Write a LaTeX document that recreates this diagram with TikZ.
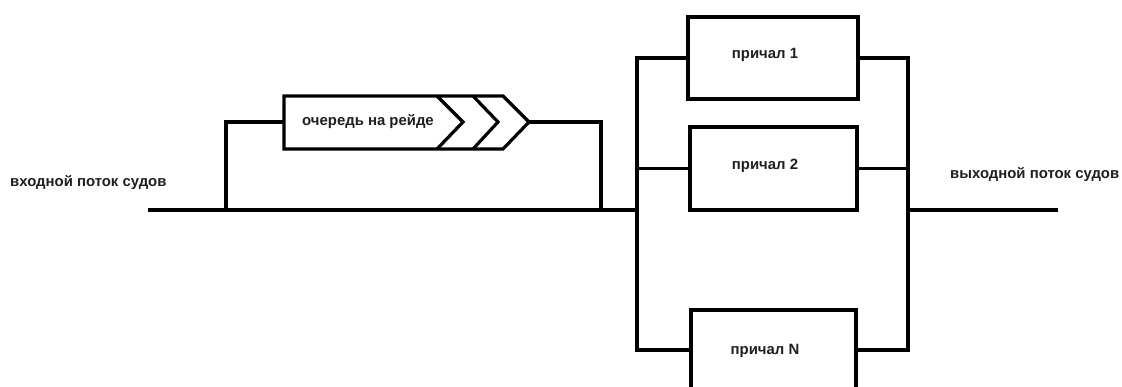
\documentclass[tikz,border=0pt]{standalone}
\usepackage{fontspec}
\setmainfont{Liberation Sans}
\begin{document}
\begin{tikzpicture}[x=1pt,y=-1pt,
  wire/.style={line width=3.2pt, line join=miter},
  berth/.style={draw, line width=3.2pt, rectangle, inner sep=0pt},
  caption/.style={font=\fontsize{14.9}{17}\selectfont\bfseries, inner sep=0pt, text=black!88}]
\useasboundingbox (0,0) rectangle (1122,387);
\clip (0,0) rectangle (1122,387);

% berths
\node[berth, minimum width=170pt, minimum height=82pt] (b1) at (773,58) {};
\node[berth, minimum width=167pt, minimum height=83pt] (b2) at (773.5,168.5) {};
\node[berth, minimum width=165pt, minimum height=80pt] (bN) at (773.5,350) {};
\node[caption] (t1) at (765,55) {причал 1};
\node[caption] (t2) at (765,166) {причал 2};
\node[caption] (tN) at (765,351) {причал N};

% roadstead queue (box ending in chevrons)
\coordinate (qin) at (284,122);
\coordinate (qout) at (529,122);
\draw[wire] (284,96) -- (503,96) -- (qout) -- (503,149) -- (284,149) -- cycle;
\draw[wire] (437,96) -- (463,122) -- (437,149);
\draw[wire] (473,96) -- (498,122) -- (473,149);
\node[caption] (q) at (368,122) {очередь на рейде};

% main flow
\coordinate (src) at (148,210);
\coordinate (bl) at (226,210);
\coordinate (br) at (601,210);
\coordinate (lt) at (637,58);
\coordinate (lm) at (637,210);
\coordinate (lb) at (637,350);
\coordinate (rt) at (908,58);
\coordinate (rm) at (908,210);
\coordinate (rb) at (908,350);
\coordinate (dst) at (1058,210);

\draw[wire] (src) -- (lm);
\draw[wire] (bl) |- (qin);
\draw[wire] (qout) -| (br);
\draw[wire] (b1.west) -- (lt) -- (lb) -- (bN.west);
\draw[wire] (b2.west) -- (b2.west -| lt);
\draw[wire] (b1.east) -- (rt) -- (rb) -- (bN.east);
\draw[wire] (b2.east) -- (b2.east -| rt);
\draw[wire] (rm) -- (dst);

\node[caption, anchor=west] (inlabel) at (10,183) {входной поток судов};
\node[caption, anchor=west] (outlabel) at (950,175) {выходной поток судов};
\end{tikzpicture}
\end{document}
